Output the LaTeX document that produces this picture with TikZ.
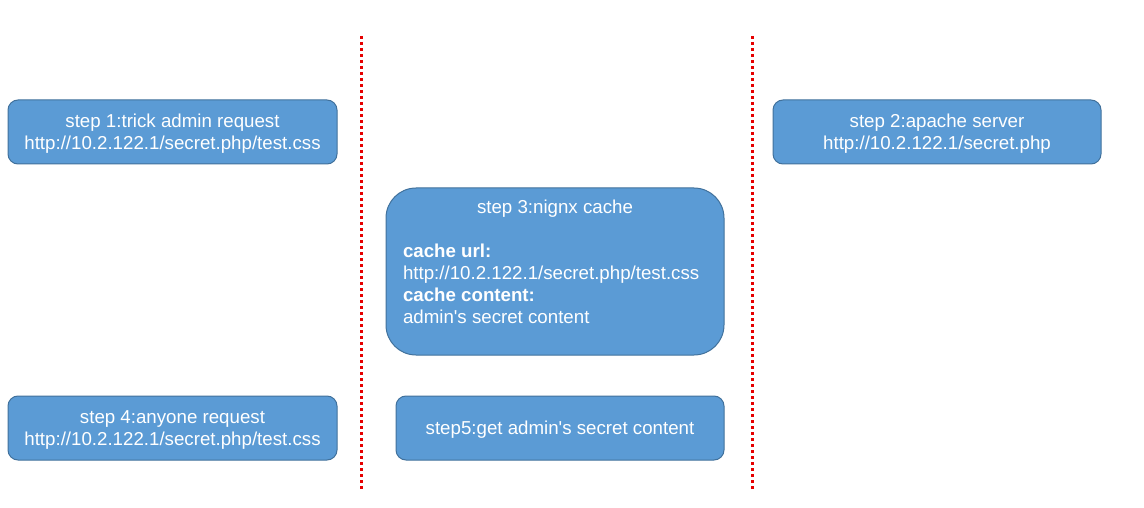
\documentclass[tikz,border=0pt]{standalone}
\usepackage{fontspec}
\setmainfont{Liberation Sans}[Ligatures=TeXOff]
\usetikzlibrary{shapes}
\definecolor{boxfill}{RGB}{91,155,213}
\definecolor{boxline}{RGB}{65,113,156}
\definecolor{sepred}{RGB}{230,0,0}
\tikzset{
  stepbox/.style={draw=boxline, fill=boxfill, line width=1pt, text=white, rounded corners=10pt, align=center, minimum width=329pt, minimum height=64pt},
  lowtext/.style={text depth=-2pt},
  separator/.style={draw=sepred, line width=3pt, dash pattern=on 3pt off 3pt}
}
\begin{document}
\begin{tikzpicture}[x=1pt, y=-1pt, font=\fontsize{18.7}{22}\selectfont]
\useasboundingbox (0,0) rectangle (1144,508);

\draw[separator] (361,36) -- (361,490);
\draw[separator] (752,36) -- (752,490);

\node[stepbox, lowtext] (step1) at (172.5,132) {step 1:trick admin request\\http://10.2.122.1/secret.php/test.css};
\node[stepbox, lowtext, minimum width=328pt] (step2) at (937,132) {step 2:apache server\\http://10.2.122.1/secret.php};
\node[stepbox, rounded corners=30pt, minimum width=338pt, minimum height=167pt, inner sep=0pt] (step3) at (555,271.5)
{\parbox[c][144pt][t]{304pt}{\centering step 3:nignx cache\par\raggedright\vspace{22pt}
\textbf{cache url:}\\
http://10.2.122.1/secret.php/test.css\\
\textbf{cache content:}\\
admin's secret content}};
\node[stepbox, lowtext] (step4) at (172.5,428) {step 4:anyone request\\http://10.2.122.1/secret.php/test.css};
\node[stepbox, lowtext, minimum width=328pt] (step5) at (560,428) {step5:get admin's secret content};
\end{tikzpicture}
\end{document}
